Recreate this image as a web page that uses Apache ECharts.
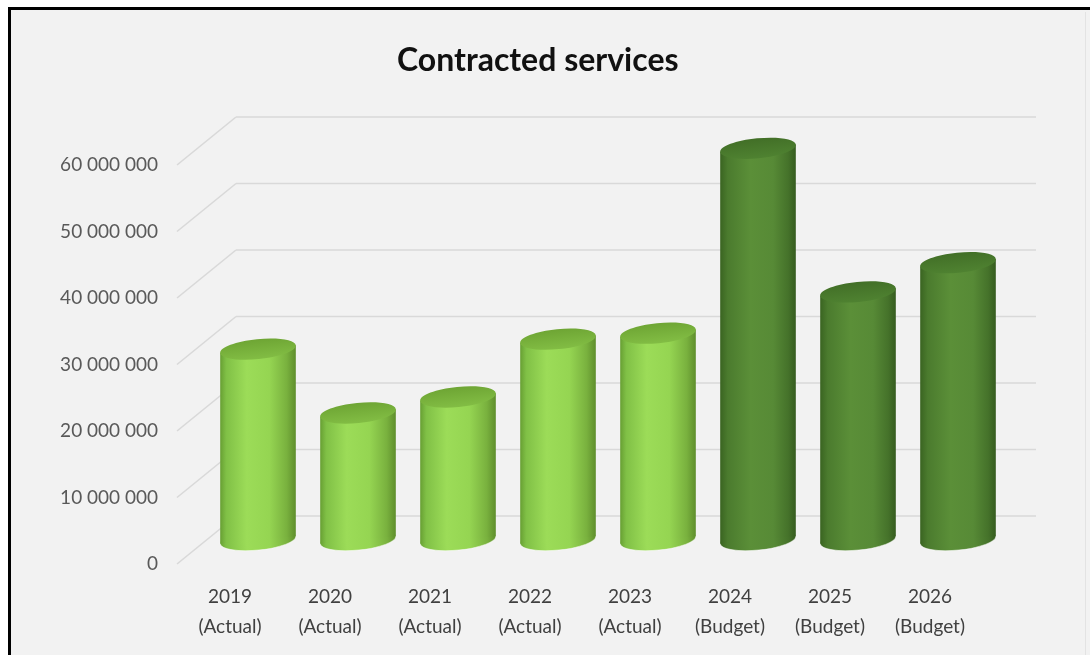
<!DOCTYPE html>
<html>
<head>
<meta charset="utf-8">
<script src="https://cdn.jsdelivr.net/npm/echarts@6/dist/echarts.min.js"></script>
<style>
  html, body { margin: 0; padding: 0; background: #ffffff; }
  #chart { width: 1090px; height: 655px; }
</style>
</head>
<body>
<div id="chart"></div>
<script>
// Contracted services by year
const years = ['2019', '2020', '2021', '2022', '2023', '2024', '2025', '2026'];
const periods = ['Actual', 'Actual', 'Actual', 'Actual', 'Actual', 'Budget', 'Budget', 'Budget'];
const values = [28700000, 19100000, 21500000, 30200000, 31100000, 58900000, 37300000, 41700000];
const valueTicks = [0, 10000000, 20000000, 30000000, 40000000, 50000000, 60000000];

// 3-D look: depth of the floor from the front plane to the back wall
const DEPTH_X = 56;
const DEPTH_Y = -48;
const TILT = 0.1;

const palettes = {
  Actual: {
    side: [
      { offset: 0, color: '#679f33' },
      { offset: 0.08, color: '#80c046' },
      { offset: 0.35, color: '#9cdc58' },
      { offset: 0.65, color: '#95d552' },
      { offset: 0.88, color: '#79b13e' },
      { offset: 1, color: '#5f8e2c' }
    ],
    top: ['#6ea534', '#82bd44']
  },
  Budget: {
    side: [
      { offset: 0, color: '#3a6421' },
      { offset: 0.1, color: '#4b7b2e' },
      { offset: 0.4, color: '#5b8f38' },
      { offset: 0.7, color: '#578a36' },
      { offset: 0.9, color: '#45722a' },
      { offset: 1, color: '#365c1f' }
    ],
    top: ['#426f27', '#4f8231']
  }
};

function formatThousands(v) {
  return String(v).replace(/\B(?=(\d{3})+(?!\d))/g, ' ');
}

// Grid lines on the back wall plus the receding lines from the value axis
function renderWall(params, api) {
  const cs = params.coordSys;
  const y = api.coord([0, api.value(1)])[1];
  const x0 = cs.x;
  const stroke = { stroke: '#d9d9d9', lineWidth: 1.6 };
  return {
    type: 'group',
    children: [
      { type: 'line', shape: { x1: x0 - 3, y1: y, x2: x0 + DEPTH_X, y2: y + DEPTH_Y }, style: stroke },
      { type: 'line', shape: { x1: x0 + DEPTH_X, y1: y + DEPTH_Y, x2: x0 + cs.width + DEPTH_X, y2: y + DEPTH_Y }, style: stroke }
    ]
  };
}

// Cylinder standing halfway between the front plane and the back wall
function renderCylinder(params, api) {
  const i = params.dataIndex;
  const base = api.coord([api.value(0), 0]);
  const top = api.coord([api.value(0), api.value(1)]);
  const band = api.size([1, 0])[0];
  const w = band * 0.76;
  const rx = w / 2;
  const ry = 10;
  const cx = base[0] + DEPTH_X / 2;
  const by = base[1] + DEPTH_Y / 2;
  const ty = top[1] + DEPTH_Y / 2;
  // ends of the tilted ellipse's long axis
  const ex = rx * Math.cos(TILT);
  const ey = rx * Math.sin(TILT);
  const pal = palettes[periods[i]];
  const side = () => new echarts.graphic.LinearGradient(0, 0, 1, 0, pal.side);
  const cap = new echarts.graphic.LinearGradient(0, 0, 0, 1, [
    { offset: 0, color: pal.top[0] },
    { offset: 1, color: pal.top[1] }
  ]);
  return {
    type: 'group',
    children: [
      {
        type: 'ellipse',
        shape: { cx: cx, cy: by, rx: rx, ry: ry },
        rotation: TILT, originX: cx, originY: by,
        style: { fill: side(), stroke: 'rgba(255,255,255,0.55)', lineWidth: 1 }
      },
      {
        type: 'polygon',
        shape: {
          points: [
            [cx - ex, ty + ey], [cx + ex, ty - ey],
            [cx + ex, by - ey], [cx - ex, by + ey]
          ]
        },
        style: { fill: side() }
      },
      {
        type: 'ellipse',
        shape: { cx: cx, cy: ty, rx: rx, ry: ry },
        rotation: TILT, originX: cx, originY: ty,
        style: { fill: cap }
      }
    ]
  };
}

const chart = echarts.init(document.getElementById('chart'), null, { renderer: 'canvas' });

chart.setOption({
  backgroundColor: '#f2f2f2',
  animation: false,
  title: {
    text: 'Contracted services',
    left: 392,
    top: 40,
    textStyle: { fontFamily: 'Lato', fontWeight: 'bold', fontSize: 32, color: '#111111' }
  },
  graphic: [
    { type: 'rect', shape: { x: 0, y: 0, width: 1090, height: 7 }, style: { fill: '#ffffff' }, z: 100 },
    { type: 'rect', shape: { x: 0, y: 0, width: 8, height: 655 }, style: { fill: '#ffffff' }, z: 100 },
    { type: 'line', shape: { x1: 8, y1: 8.5, x2: 1090, y2: 8.5 }, style: { stroke: '#000000', lineWidth: 3 }, z: 101 },
    { type: 'line', shape: { x1: 9.5, y1: 7, x2: 9.5, y2: 655 }, style: { stroke: '#000000', lineWidth: 3 }, z: 101 },
    { type: 'line', shape: { x1: 1085.5, y1: 12, x2: 1085.5, y2: 655 }, style: { stroke: '#e3e3e3', lineWidth: 1 }, z: 101 }
  ],
  grid: { left: 180, right: 110, top: 165, bottom: 91, containLabel: false },
  xAxis: {
    type: 'category',
    data: years,
    axisLine: { show: false },
    axisTick: { show: false },
    splitLine: { show: false },
    axisLabel: {
      margin: 18,
      fontFamily: 'Lato',
      fontSize: 19,
      lineHeight: 30,
      color: '#404040',
      formatter: (v, i) => v + '\n(' + periods[i] + ')'
    }
  },
  yAxis: {
    type: 'value',
    min: 0,
    max: 60000000,
    interval: 10000000,
    axisLine: { show: false },
    axisTick: { show: false },
    splitLine: { show: false },
    axisLabel: {
      margin: 22,
      fontFamily: 'Lato',
      fontSize: 19,
      color: '#595959',
      formatter: formatThousands
    }
  },
  series: [
    {
      type: 'custom',
      name: 'walls',
      silent: true,
      z: 1,
      renderItem: renderWall,
      data: valueTicks.map(v => [0, v])
    },
    {
      type: 'custom',
      name: 'Contracted services',
      z: 5,
      renderItem: renderCylinder,
      encode: { x: 0, y: 1 },
      data: values.map((v, i) => [i, v])
    }
  ]
});
</script>
</body>
</html>
